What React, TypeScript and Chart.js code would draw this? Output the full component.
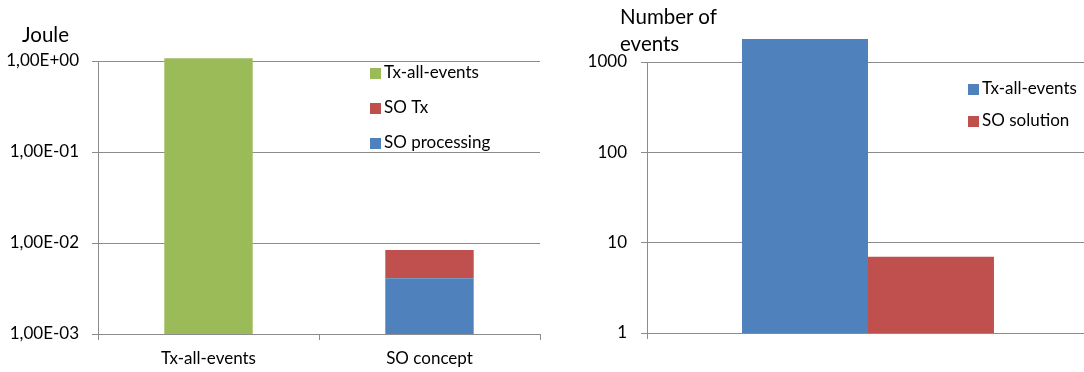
import React, { useEffect, useRef } from "react";
import { Chart, registerables } from "chart.js";

Chart.register(...registerables);

const FONT = "Lato, 'Open Sans', sans-serif";
const FONT_SIZE = 17;
const GREEN = "#9BBB59";
const RED = "#C0504D";
const BLUE = "#4F81BD";
const GRID = "#8c8c8c";
const TEXT = "#000000";

// ---- Left chart: energy (Joule) ----
const energyCategories = ["Tx-all-events", "SO concept"];
const txAllEventsJoule = [1.07, null];
const soProcessingJoule = [null, 0.0041];
const soTxJoule = [null, 0.0043];
const energyTicks = [0.001, 0.01, 0.1, 1];
const energyTickLabels = ["1,00E-03", "1,00E-02", "1,00E-01", "1,00E+00"];

// ---- Right chart: number of events ----
const eventCategories = [""];
const txAllEventsCount = [1800];
const soSolutionCount = [7];
const eventTicks = [1, 10, 100, 1000];
const eventTickLabels = ["1", "10", "100", "1000"];

const insideLegend = {
  id: "insideLegend",
  afterDraw(chart: any, _args: any, opts: any) {
    if (!opts || !opts.order) return;
    const ctx = chart.ctx;
    ctx.save();
    ctx.font = `${FONT_SIZE}px ${FONT}`;
    ctx.textBaseline = "middle";
    ctx.textAlign = "left";
    opts.order.forEach((di: number, i: number) => {
      const ds = chart.data.datasets[di];
      const y = opts.y + i * opts.spacing;
      ctx.fillStyle = ds.backgroundColor;
      ctx.fillRect(opts.x, Math.round(y - 5.5), 11, 11);
      ctx.fillStyle = TEXT;
      ctx.fillText(ds.label, opts.x + 14, y);
    });
    ctx.restore();
  },
};

function EnergyChart() {
  const ref = useRef<HTMLCanvasElement>(null);
  useEffect(() => {
    const chart = new Chart(ref.current!, {
      type: "bar",
      data: {
        labels: energyCategories,
        datasets: [
          { label: "SO processing", data: soProcessingJoule, backgroundColor: BLUE },
          { label: "SO Tx", data: soTxJoule, backgroundColor: RED },
          { label: "Tx-all-events", data: txAllEventsJoule, backgroundColor: GREEN, clip: false },
        ] as any,
      },
      options: {
        animation: false,
        responsive: false,
        maintainAspectRatio: false,
        layout: { padding: { top: 61, right: 1, bottom: 0, left: 0 } },
        datasets: { bar: { barPercentage: 0.4, categoryPercentage: 1 } },
        plugins: {
          legend: { display: false },
          tooltip: { enabled: false },
          insideLegend: { x: 370, y: 73, spacing: 35, order: [2, 1, 0] },
        } as any,
        scales: {
          x: {
            stacked: true,
            offset: true,
            grid: { offset: true, drawOnChartArea: false, drawTicks: true, tickLength: 6, color: GRID },
            border: { color: GRID, width: 1 },
            ticks: { font: { family: FONT, size: FONT_SIZE }, color: TEXT, padding: 8, maxRotation: 0 },
            afterFit: (s: any) => { s.height = 38; },
          },
          y: {
            type: "logarithmic",
            stacked: true,
            min: 0.001,
            max: 1,
            afterBuildTicks: (s: any) => { s.ticks = energyTicks.map((v) => ({ value: v })); },
            ticks: {
              autoSkip: false,
              font: { family: FONT, size: FONT_SIZE },
              color: TEXT,
              padding: 13,
              callback: (_v: any, i: number) => energyTickLabels[i],
            },
            grid: { color: GRID, tickLength: 6 },
            border: { color: GRID, width: 1 },
            afterFit: (s: any) => { s.width = 98; },
          },
        } as any,
      },
      plugins: [insideLegend as any],
    });
    return () => chart.destroy();
  }, []);
  return <canvas ref={ref} width={541} height={372} style={{ position: "absolute", left: 0, top: 0 }} />;
}

function EventsChart() {
  const ref = useRef<HTMLCanvasElement>(null);
  useEffect(() => {
    const chart = new Chart(ref.current!, {
      type: "bar",
      data: {
        labels: eventCategories,
        datasets: [
          { label: "Tx-all-events", data: txAllEventsCount, backgroundColor: BLUE, clip: false },
          { label: "SO solution", data: soSolutionCount, backgroundColor: RED },
        ] as any,
      },
      options: {
        animation: false,
        responsive: false,
        maintainAspectRatio: false,
        layout: { padding: { top: 62, right: 1, bottom: 0, left: 0 } },
        datasets: { bar: { barPercentage: 1, categoryPercentage: 0.57 } },
        plugins: {
          legend: { display: false },
          tooltip: { enabled: false },
          insideLegend: { x: 428, y: 89, spacing: 32, order: [0, 1] },
        } as any,
        scales: {
          x: {
            offset: true,
            grid: { offset: true, drawOnChartArea: false, drawTicks: true, tickLength: 6, color: GRID },
            border: { color: GRID, width: 1 },
            ticks: { display: false },
            afterFit: (s: any) => { s.height = 39; },
          },
          y: {
            type: "logarithmic",
            min: 1,
            max: 1000,
            afterBuildTicks: (s: any) => { s.ticks = eventTicks.map((v) => ({ value: v })); },
            ticks: {
              autoSkip: false,
              font: { family: FONT, size: FONT_SIZE },
              color: TEXT,
              padding: 14,
              callback: (_v: any, i: number) => eventTickLabels[i],
            },
            grid: { color: GRID, tickLength: 6 },
            border: { color: GRID, width: 1 },
            afterFit: (s: any) => { s.width = 107; },
          },
        } as any,
      },
      plugins: [insideLegend as any],
    });
    return () => chart.destroy();
  }, []);
  return <canvas ref={ref} width={550} height={372} style={{ position: "absolute", left: 540, top: 0 }} />;
}

export default function App() {
  const titleStyle: React.CSSProperties = {
    position: "absolute",
    fontFamily: FONT,
    fontSize: 20.5,
    color: TEXT,
    lineHeight: "27px",
    whiteSpace: "nowrap",
  };
  return (
    <div style={{ position: "absolute", left: 0, top: 0, width: 1084, height: 372, overflow: "hidden", background: "#fff" }}>
      <EnergyChart />
      <EventsChart />
      <div style={{ ...titleStyle, left: 22, top: 21 }}>Joule</div>
      <div style={{ ...titleStyle, left: 620, top: 3 }}>
        Number of
        <br />
        events
      </div>
    </div>
  );
}
